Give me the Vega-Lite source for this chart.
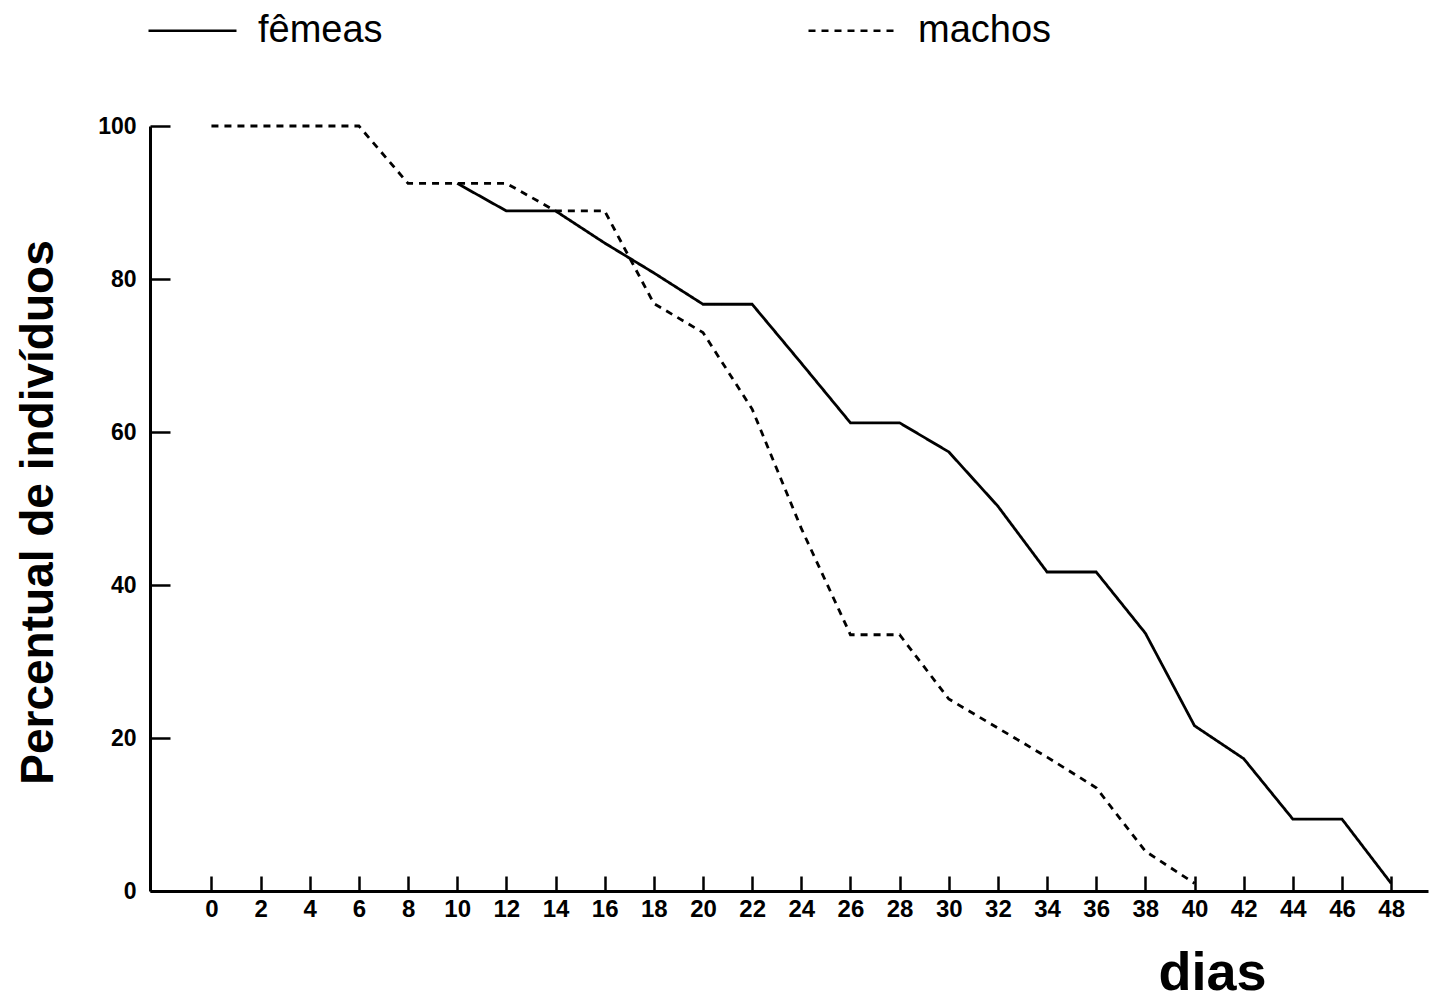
{
  "$schema": "https://vega.github.io/schema/vega-lite/v6.json",
  "autosize": {"type": "none"},
  "padding": {"left": 150, "top": 126, "right": 1, "bottom": 112},
  "width": 1278,
  "height": 765,
  "background": "white",
  "config": {
    "view": {"stroke": null},
    "font": "Liberation Sans",
    "axis": {"grid": false, "domainColor": "black", "tickColor": "black", "labelColor": "black", "titleColor": "black"}
  },
  "data": {
    "values": [
      {"dia": 0, "sexo": "machos", "pct": 100},
      {"dia": 2, "sexo": "machos", "pct": 100},
      {"dia": 4, "sexo": "machos", "pct": 100},
      {"dia": 6, "sexo": "machos", "pct": 100},
      {"dia": 8, "sexo": "machos", "pct": 92.5},
      {"dia": 10, "sexo": "machos", "pct": 92.5},
      {"dia": 12, "sexo": "machos", "pct": 92.5},
      {"dia": 14, "sexo": "machos", "pct": 88.9},
      {"dia": 16, "sexo": "machos", "pct": 88.9},
      {"dia": 18, "sexo": "machos", "pct": 76.8},
      {"dia": 20, "sexo": "machos", "pct": 73},
      {"dia": 22, "sexo": "machos", "pct": 63},
      {"dia": 24, "sexo": "machos", "pct": 47.4},
      {"dia": 26, "sexo": "machos", "pct": 33.5},
      {"dia": 28, "sexo": "machos", "pct": 33.5},
      {"dia": 30, "sexo": "machos", "pct": 25.1},
      {"dia": 32, "sexo": "machos", "pct": 21.3},
      {"dia": 34, "sexo": "machos", "pct": 17.5},
      {"dia": 36, "sexo": "machos", "pct": 13.5},
      {"dia": 38, "sexo": "machos", "pct": 5.2},
      {"dia": 40, "sexo": "machos", "pct": 1},
      {"dia": 10, "sexo": "fêmeas", "pct": 92.5},
      {"dia": 12, "sexo": "fêmeas", "pct": 88.9},
      {"dia": 14, "sexo": "fêmeas", "pct": 88.9},
      {"dia": 16, "sexo": "fêmeas", "pct": 84.7},
      {"dia": 18, "sexo": "fêmeas", "pct": 80.8},
      {"dia": 20, "sexo": "fêmeas", "pct": 76.7},
      {"dia": 22, "sexo": "fêmeas", "pct": 76.7},
      {"dia": 24, "sexo": "fêmeas", "pct": 69},
      {"dia": 26, "sexo": "fêmeas", "pct": 61.2},
      {"dia": 28, "sexo": "fêmeas", "pct": 61.2},
      {"dia": 30, "sexo": "fêmeas", "pct": 57.4},
      {"dia": 32, "sexo": "fêmeas", "pct": 50.3},
      {"dia": 34, "sexo": "fêmeas", "pct": 41.7},
      {"dia": 36, "sexo": "fêmeas", "pct": 41.7},
      {"dia": 38, "sexo": "fêmeas", "pct": 33.7},
      {"dia": 40, "sexo": "fêmeas", "pct": 21.6},
      {"dia": 42, "sexo": "fêmeas", "pct": 17.3},
      {"dia": 44, "sexo": "fêmeas", "pct": 9.4},
      {"dia": 46, "sexo": "fêmeas", "pct": 9.4},
      {"dia": 48, "sexo": "fêmeas", "pct": 1}
    ]
  },
  "mark": {"type": "line", "color": "black", "strokeWidth": 2.8},
  "encoding": {
    "x": {
      "field": "dia", "type": "quantitative",
      "scale": {"domain": [-2.5, 49.5], "nice": false, "zero": false},
      "axis": {
        "values": [0, 2, 4, 6, 8, 10, 12, 14, 16, 18, 20, 22, 24, 26, 28, 30, 32, 34, 36, 38, 40, 42, 44, 46, 48],
        "domainWidth": 3, "tickWidth": 2.5, "tickSize": -15,
        "labelFontSize": 24, "labelFontWeight": "bold", "labelPadding": 21,
        "title": "dias", "titleFontSize": 54, "titleFontWeight": "bold",
        "titleX": 1062, "titleY": 98, "titleAlign": "center", "titleBaseline": "alphabetic"
      }
    },
    "y": {
      "field": "pct", "type": "quantitative",
      "scale": {"domain": [0, 100], "nice": false},
      "axis": {
        "values": [0, 20, 40, 60, 80, 100],
        "domainWidth": 3, "tickWidth": 2.5, "tickSize": -20,
        "labelFontSize": 23, "labelFontWeight": "bold", "labelPadding": 34,
        "title": "Percentual de indivíduos", "titleFontSize": 46, "titleFontWeight": "bold",
        "titleX": -88, "titleY": 386, "titleAngle": 270, "titleAlign": "center", "titleBaseline": "bottom"
      }
    },
    "strokeDash": {
      "field": "sexo", "type": "nominal",
      "scale": {"domain": ["fêmeas", "machos"], "range": [[1, 0], [7, 6]]},
      "legend": {
        "title": null, "orient": "none", "direction": "horizontal", "columns": 2,
        "legendX": -3, "legendY": -141, "padding": 0,
        "symbolType": "stroke", "symbolSize": 7744, "symbolStrokeWidth": 2.5, "symbolStrokeColor": "black",
        "labelFontSize": 38, "labelColor": "black", "labelOffset": 20, "columnPadding": 420,
        "labelBaseline": "middle"
      }
    }
  }
}
